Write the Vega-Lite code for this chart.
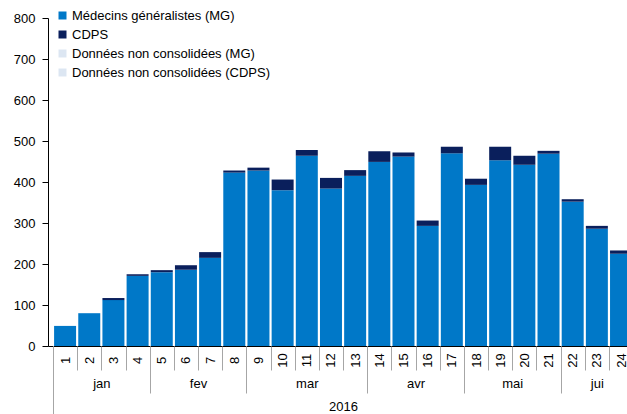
{
  "$schema": "https://vega.github.io/schema/vega-lite/v6.json",
  "width": 579,
  "height": 328,
  "autosize": {"type": "none"},
  "padding": {"left": 48, "top": 18, "right": 0, "bottom": 68},
  "background": "white",
  "config": {
    "view": {"stroke": null},
    "font": "Liberation Sans",
    "axis": {"labelFont": "Liberation Sans", "labelColor": "#000000", "grid": false}
  },
  "data": {
    "values": [
      {"week": 1, "serie": "Médecins généralistes (MG)", "value": 49},
      {"week": 1, "serie": "CDPS", "value": 0},
      {"week": 2, "serie": "Médecins généralistes (MG)", "value": 80},
      {"week": 2, "serie": "CDPS", "value": 0},
      {"week": 3, "serie": "Médecins généralistes (MG)", "value": 112},
      {"week": 3, "serie": "CDPS", "value": 5},
      {"week": 4, "serie": "Médecins généralistes (MG)", "value": 171},
      {"week": 4, "serie": "CDPS", "value": 4},
      {"week": 5, "serie": "Médecins généralistes (MG)", "value": 180},
      {"week": 5, "serie": "CDPS", "value": 5},
      {"week": 6, "serie": "Médecins généralistes (MG)", "value": 186},
      {"week": 6, "serie": "CDPS", "value": 11},
      {"week": 7, "serie": "Médecins généralistes (MG)", "value": 215},
      {"week": 7, "serie": "CDPS", "value": 14},
      {"week": 8, "serie": "Médecins généralistes (MG)", "value": 423},
      {"week": 8, "serie": "CDPS", "value": 5},
      {"week": 9, "serie": "Médecins généralistes (MG)", "value": 428},
      {"week": 9, "serie": "CDPS", "value": 7},
      {"week": 10, "serie": "Médecins généralistes (MG)", "value": 380},
      {"week": 10, "serie": "CDPS", "value": 26},
      {"week": 11, "serie": "Médecins généralistes (MG)", "value": 464},
      {"week": 11, "serie": "CDPS", "value": 14},
      {"week": 12, "serie": "Médecins généralistes (MG)", "value": 384},
      {"week": 12, "serie": "CDPS", "value": 26},
      {"week": 13, "serie": "Médecins généralistes (MG)", "value": 415},
      {"week": 13, "serie": "CDPS", "value": 14},
      {"week": 14, "serie": "Médecins généralistes (MG)", "value": 449},
      {"week": 14, "serie": "CDPS", "value": 26},
      {"week": 15, "serie": "Médecins généralistes (MG)", "value": 462},
      {"week": 15, "serie": "CDPS", "value": 10},
      {"week": 16, "serie": "Médecins généralistes (MG)", "value": 293},
      {"week": 16, "serie": "CDPS", "value": 13},
      {"week": 17, "serie": "Médecins généralistes (MG)", "value": 470},
      {"week": 17, "serie": "CDPS", "value": 16},
      {"week": 18, "serie": "Médecins généralistes (MG)", "value": 393},
      {"week": 18, "serie": "CDPS", "value": 15},
      {"week": 19, "serie": "Médecins généralistes (MG)", "value": 453},
      {"week": 19, "serie": "CDPS", "value": 33},
      {"week": 20, "serie": "Médecins généralistes (MG)", "value": 442},
      {"week": 20, "serie": "CDPS", "value": 22},
      {"week": 21, "serie": "Médecins généralistes (MG)", "value": 469},
      {"week": 21, "serie": "CDPS", "value": 7},
      {"week": 22, "serie": "Médecins généralistes (MG)", "value": 352},
      {"week": 22, "serie": "CDPS", "value": 6},
      {"week": 23, "serie": "Médecins généralistes (MG)", "value": 286},
      {"week": 23, "serie": "CDPS", "value": 7},
      {"week": 24, "serie": "Médecins généralistes (MG)", "value": 225},
      {"week": 24, "serie": "CDPS", "value": 8}
    ]
  },
  "layer": [
    {
      "mark": {"type": "bar", "size": 22, "clip": true},
      "encoding": {
        "x": {
          "field": "week", "type": "quantitative",
          "scale": {"domain": [0.5, 24.04], "nice": false, "zero": false},
          "axis": {
            "orient": "bottom",
            "values": [1,2,3,4,5,6,7,8,9,10,11,12,13,14,15,16,17,18,19,20,21,22,23,24],
            "title": null, "ticks": false, "tickSize": 0,
            "labelAngle": -90, "labelAlign": "center", "labelBaseline": "middle",
            "labelPadding": 14, "labelFontSize": 13, "labelOverlap": false, "labelFlush": false,
            "domainColor": "#000000", "domainWidth": 1
          }
        },
        "y": {
          "field": "value", "type": "quantitative", "stack": "zero",
          "scale": {"domain": [0, 800], "nice": false},
          "axis": {
            "values": [0,100,200,300,400,500,600,700,800],
            "title": null, "tickSize": 6, "tickColor": "#000000",
            "domainColor": "#000000", "labelPadding": 7, "labelFontSize": 13
          }
        },
        "color": {
          "field": "serie", "type": "nominal",
          "scale": {
            "domain": ["Médecins généralistes (MG)", "CDPS", "Données non consolidées (MG)", "Données non consolidées (CDPS)"],
            "range": ["#0078C8", "#0A1F5C", "#DCE6F2", "#DCE6F2"]
          },
          "legend": {
            "orient": "none", "legendX": 8, "legendY": -9, "title": null,
            "symbolType": "square", "symbolSize": 64, "symbolStrokeWidth": 0,
            "labelFont": "Liberation Sans", "labelFontSize": 13, "labelColor": "#000000",
            "labelLimit": 400, "rowPadding": 5, "labelOffset": 3
          }
        },
        "order": {"field": "serie", "sort": "descending"}
      }
    },
    {
      "mark": {"type": "rule", "opacity": 0},
      "encoding": {
        "x": {
          "field": "week", "type": "quantitative",
          "scale": {"domain": [0.5, 24.04], "nice": false, "zero": false},
          "axis": {
            "orient": "bottom", "title": null, "domain": false, "labels": false,
            "values": [0.5,1.5,2.5,3.5,4.5,5.5,6.5,7.5,8.5,9.5,10.5,11.5,12.5,13.5,14.5,15.5,16.5,17.5,18.5,19.5,20.5,21.5,22.5,23.5],
            "tickSize": 24, "tickColor": "#A6A6A6", "tickWidth": 1
          }
        }
      }
    },
    {
      "mark": {"type": "rule", "opacity": 0},
      "encoding": {
        "x": {
          "field": "week", "type": "quantitative",
          "scale": {"domain": [0.5, 24.04], "nice": false, "zero": false},
          "axis": {
            "orient": "bottom", "title": null, "domain": false, "labels": false,
            "values": [0.5, 4.5, 8.5, 13.5, 17.5, 21.5],
            "tickSize": 47, "tickColor": "#A6A6A6", "tickWidth": 1
          }
        }
      }
    },
    {
      "mark": {"type": "rule", "opacity": 0},
      "encoding": {
        "x": {
          "field": "week", "type": "quantitative",
          "scale": {"domain": [0.5, 24.04], "nice": false, "zero": false},
          "axis": {
            "orient": "bottom", "title": null, "domain": false, "ticks": false, "tickSize": 0,
            "values": [2.5, 6.5, 11, 15.5, 19.5, 23],
            "labelExpr": "datum.value == 2.5 ? 'jan' : datum.value == 6.5 ? 'fev' : datum.value == 11 ? 'mar' : datum.value == 15.5 ? 'avr' : datum.value == 19.5 ? 'mai' : 'jui'",
            "labelPadding": 37, "labelFontSize": 13, "labelBaseline": "middle", "labelFlush": false, "labelOverlap": false
          }
        }
      }
    },
    {
      "mark": {"type": "rule", "opacity": 0},
      "encoding": {
        "x": {
          "field": "week", "type": "quantitative",
          "scale": {"domain": [0.5, 24.04], "nice": false, "zero": false},
          "axis": {
            "orient": "bottom", "title": null, "domain": false, "labels": false,
            "values": [0.5],
            "tickSize": 68, "tickColor": "#A6A6A6", "tickWidth": 1
          }
        }
      }
    },
    {
      "mark": {"type": "rule", "opacity": 0},
      "encoding": {
        "x": {
          "field": "week", "type": "quantitative",
          "scale": {"domain": [0.5, 24.04], "nice": false, "zero": false},
          "axis": {
            "orient": "bottom", "title": null, "domain": false, "ticks": false, "tickSize": 0,
            "values": [12.5],
            "labelExpr": "'2016'",
            "labelPadding": 60, "labelFontSize": 13, "labelBaseline": "middle", "labelFlush": false
          }
        }
      }
    }
  ],
  "resolve": {"axis": {"x": "independent"}}
}
